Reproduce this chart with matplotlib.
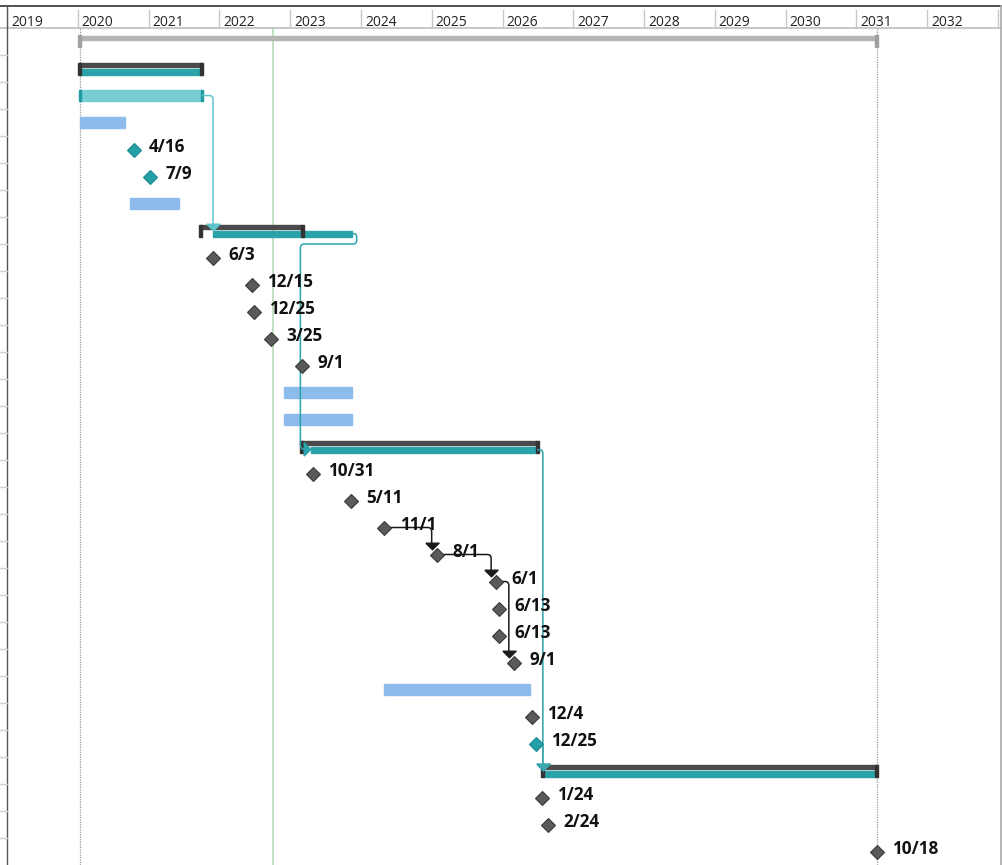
import matplotlib
matplotlib.use("Agg")
import matplotlib.pyplot as plt
from matplotlib.path import Path
from matplotlib.patches import PathPatch, Rectangle
from matplotlib.lines import Line2D

plt.rcParams['font.family'] = ['Open Sans', 'DejaVu Sans']

# timescale shown in the header
years = list(range(2019, 2034))

# project summary bar (row 0)
project_start = 2020.03
project_end = 2031.29
today = 2022.76

# summary rows: outline (dark line) and scheduled (teal) part
summary_rows = [1, 7, 15, 27]
summary_start = [2020.03, 2021.74, 2023.16, 2026.56]
summary_end = [2021.75, 2023.17, 2026.49, 2031.29]
summary_bar_start = [2020.03, 2021.91, 2023.30, 2026.57]
summary_bar_end = [2021.75, 2023.87, 2026.46, 2031.29]

# normal task (light teal)
task_rows = [2]
task_start = [2020.03]
task_end = [2021.75]

# blue bars
plan_rows = [3, 6, 13, 14, 24]
plan_start = [2020.03, 2020.74, 2022.91, 2022.91, 2024.33]
plan_end = [2020.67, 2021.43, 2023.87, 2023.87, 2026.39]

# milestones
ms_rows = [4, 5, 8, 9, 10, 11, 12, 16, 17, 18, 19, 20, 21, 22, 23, 25, 26, 28, 29, 30]
ms_dates = [2020.79, 2021.02, 2021.91, 2022.46, 2022.49, 2022.73, 2023.17, 2023.32,
            2023.86, 2024.33, 2025.07, 2025.91, 2025.95, 2025.95, 2026.16, 2026.42,
            2026.47, 2026.56, 2026.64, 2031.29]
ms_labels = ['4/16', '7/9', '6/3', '12/15', '12/25', '3/25', '9/1', '10/31', '5/11',
             '11/1', '8/1', '6/1', '6/13', '6/13', '9/1', '12/4', '12/25', '1/24',
             '2/24', '10/18']
ms_critical = [True, True, False, False, False, False, False, False, False, False,
               False, False, False, False, False, False, True, False, False, False]

# dependency links (from row, to row)
links = [(2, 7), (7, 15), (15, 27), (26, 27), (18, 19), (19, 20), (20, 23)]

W, H = 1002, 865
x_left, x_right = 7, 1001
head_top, head_bot = 6, 28
year_px = (998 - 7) / 14.0
n_rows = 31

TEAL = '#2ba3aa'
LTEAL = '#76cdd3'
BLUE = '#8cbbec'
DARK = '#4a4a4a'

fig = plt.figure(figsize=(W / 100, H / 100), dpi=100)
ax = fig.add_axes([x_left / W, 0, (x_right - x_left) / W, (H - head_bot) / H])
ax.set_xlim(2019, 2019 + (x_right - x_left) / year_px)
ax.set_ylim(n_rows, 0)
ax.axis('off')

hax = fig.add_axes([x_left / W, 1 - head_bot / H, (x_right - x_left) / W, (head_bot - head_top) / H])
hax.set_xlim(ax.get_xlim())
hax.set_ylim(0, 1)
hax.axis('off')

px = 1.0 / year_px   # one pixel in x data units
py = 1.0 / 27.0      # one pixel in row units

# header
for yr in years:
    hax.plot([yr, yr], [0, 0.82], color='#c8c8c8', lw=1)
    if yr < 2033:
        hax.text(yr + 4 * px, 0.08, str(yr), fontsize=10, color='#222222', va='baseline', ha='left')


def fig_line(x0, y0, x1, y1, color, lw=1.0):
    fig.add_artist(Line2D([x0 / W, x1 / W], [1 - y0 / H, 1 - y1 / H], color=color, lw=lw,
                          transform=fig.transFigure))


fig_line(0, head_top, x_right, head_top, '#333333', 1.2)
fig_line(0, head_bot, x_right, head_bot, '#bdbdbd', 1.2)
fig_line(x_left, head_top, x_left, H, '#555555', 1.0)
fig_line(x_right - 0.5, head_top, x_right - 0.5, H, '#aaaaaa', 1.2)
for k in range(1, n_rows):
    yy = head_bot + 27 * k
    fig_line(0, yy, x_left, yy, '#d0d0d0', 1.0)

# reference lines
ax.axvline(today, color='#b9dcb9', lw=1.2, zorder=1)
for xv in (project_start, project_end):
    ax.axvline(xv, color='#9a9a9a', lw=0.9, ls=(0, (1, 1)), zorder=1)

# project summary
ax.add_patch(Rectangle((project_start, 0.30), project_end - project_start, 0.13,
                       color='#b5b5b5', zorder=2))
for xv in (project_start, project_end):
    ax.add_patch(Rectangle((xv - 1.5 * px, 0.27), 3 * px, 0.44, color='#a0a0a0', zorder=3))

# summary rows
for r, s, e, bs, be in zip(summary_rows, summary_start, summary_end, summary_bar_start, summary_bar_end):
    ax.add_patch(Rectangle((s, r + 0.31), e - s, 0.12, color=DARK, zorder=3))
    ax.add_patch(Rectangle((bs, r + 0.50), be - bs, 0.24, color=TEAL, zorder=3))
    for xv in (s, e):
        ax.add_patch(Rectangle((xv - 1.5 * px, r + 0.30), 3 * px, 0.45, color='#333333', zorder=4))

# tasks
for r, s, e in zip(task_rows, task_start, task_end):
    ax.add_patch(Rectangle((s, r + 0.3), e - s, 0.41, color=LTEAL, zorder=3))
    for xv in (s, e):
        ax.add_patch(Rectangle((xv - 1 * px, r + 0.3), 2.5 * px, 0.41, color='#1f9aa0', zorder=4))

for r, s, e in zip(plan_rows, plan_start, plan_end):
    ax.add_patch(Rectangle((s, r + 0.3), e - s, 0.42, color=BLUE, zorder=3))

# milestones
for r, d, lab, crit in zip(ms_rows, ms_dates, ms_labels, ms_critical):
    fc = '#25a0a8' if crit else '#5a5a5a'
    ec = '#1a8a90' if crit else '#3c3c3c'
    ax.plot(d, r + 0.5, marker='D', ms=6.8, mfc=fc, mec=ec, mew=0.8, zorder=6)
    ax.annotate(lab, (d, r + 0.5), xytext=(11, -2), textcoords='offset points',
                ha='left', va='baseline', fontsize=12.3, fontweight='bold', color='#111111',
                zorder=7)

# link geometry helpers
ms_lookup = dict(zip(ms_rows, zip(ms_dates, ms_critical)))
sum_lookup = {r: (s, e, bs, be) for r, s, e, bs, be in
              zip(summary_rows, summary_start, summary_end, summary_bar_start, summary_bar_end)}
task_lookup = {r: (s, e) for r, s, e in zip(task_rows, task_start, task_end)}


def source_point(r):
    if r in sum_lookup:
        s, e, bs, be = sum_lookup[r]
        return max(e, be), r + 0.62, TEAL
    if r in task_lookup:
        return task_lookup[r][1], r + 0.5, '#5ec4ca'
    d, crit = ms_lookup[r]
    return d, r + 0.5, ('#3aa7ae' if crit else '#1a1a1a')


def target_point(r):
    if r in sum_lookup:
        return sum_lookup[r][2], r + 0.5
    return ms_lookup[r][0] - 5 * px, r + 0.3


def rounded_path(pts, rad=4):
    verts = [pts[0]]
    codes = [Path.MOVETO]
    for i in range(1, len(pts) - 1):
        p0, p1, p2 = pts[i - 1], pts[i], pts[i + 1]
        ent, ext = [], []
        for a, b, out in ((p0, p1, ent), (p2, p1, ext)):
            dx, dy = a[0] - b[0], a[1] - b[1]
            if abs(dx) > 0:
                step = min(rad * px, abs(dx) / 2)
                out.append((b[0] + step * (1 if dx > 0 else -1), b[1]))
            else:
                step = min(rad * py, abs(dy) / 2)
                out.append((b[0], b[1] + step * (1 if dy > 0 else -1)))
        verts += [ent[0], p1, ext[0]]
        codes += [Path.LINETO, Path.CURVE3, Path.CURVE3]
    verts.append(pts[-1])
    codes.append(Path.LINETO)
    return Path(verts, codes)


# marker paths are in screen space (y up)
down_tri = Path([(-1, 0.5), (1, 0.5), (0, -0.5), (-1, 0.5)])
right_tri = Path([(-0.5, -1), (-0.5, 1), (0.5, 0), (-0.5, -1)])

for a, b in links:
    sx, sy, col = source_point(a)
    tx, ty = target_point(b)
    if tx >= sx + 5 * px:
        pts = [(sx, sy), (tx, sy), (tx, ty - 6 * py)]
        ax.add_patch(PathPatch(rounded_path(pts), fill=False, ec=col, lw=1.1, zorder=5))
        ax.plot(tx, ty - 3.5 * py, marker=down_tri, ms=9.5, color=col, zorder=6)
    else:
        jog = sx + 5 * px
        lx = tx - 11 * px
        ey = b + 0.6
        pts = [(sx, sy), (jog, sy), (jog, a + 1.0), (lx, a + 1.0), (lx, ey), (tx - 4 * px, ey)]
        ax.add_patch(PathPatch(rounded_path(pts), fill=False, ec=col, lw=1.1, zorder=5))
        ax.plot(tx - 4 * px, ey, marker=right_tri, ms=9.5, color=col, zorder=6)

fig.savefig('out.png', dpi=100)
